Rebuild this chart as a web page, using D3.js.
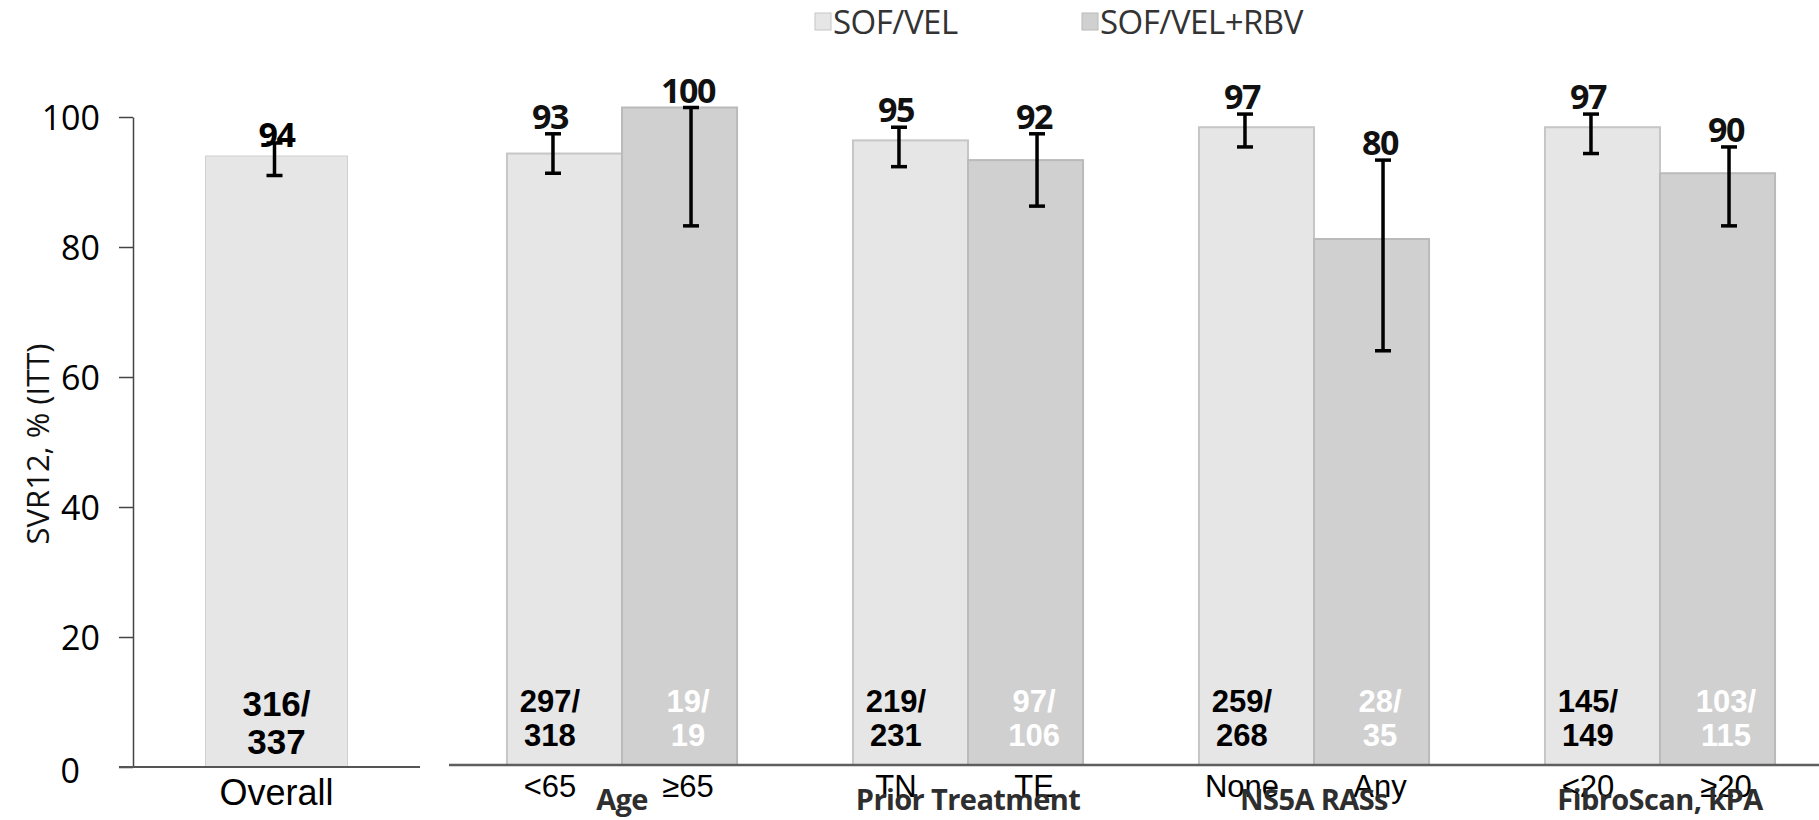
<!DOCTYPE html>
<html>
<head>
<meta charset="utf-8">
<script src="https://cdn.jsdelivr.net/npm/d3@7"></script>
<style>
  body { margin: 0; background: #fff; }
  svg { display: block; }
</style>
</head>
<body>
<div class="chart"></div>
<script>
// --- data ---
const seriesNames = ["SOF/VEL", "SOF/VEL+RBV"];

const overallCategory = ["Overall"];
const overallValues = [94];
const overallLow = [91];
const overallHigh = [96];
const overallCounts = [["316/", "337"]];

const groups = ["Age", "Prior Treatment", "NS5A RASs", "FibroScan, kPA"];
const subgroupLabels = [["<65", "≥65"], ["TN", "TE"], ["None", "Any"], ["<20", "≥20"]];

const sofVelValues = [93, 95, 97, 97];
const sofVelLow = [90, 91, 94, 93];
const sofVelHigh = [96, 97, 99, 99];
const sofVelCounts = [["297/", "318"], ["219/", "231"], ["259/", "268"], ["145/", "149"]];

const rbvValues = [100, 92, 80, 90];
const rbvLow = [82, 85, 63, 82];
const rbvHigh = [100, 96, 92, 94];
const rbvCounts = [["19/", "19"], ["97/", "106"], ["28/", "35"], ["103/", "115"]];

const yTicks = [0, 20, 40, 60, 80, 100];
const yTitle = "SVR12, % (ITT)";

// --- styles ---
const fills = { "SOF/VEL": "#e6e6e6", "SOF/VEL+RBV": "#d0d0d0" };
const strokes = { "SOF/VEL": "#c6c6c6", "SOF/VEL+RBV": "#bababa" };
const countColors = { "SOF/VEL": "#000", "SOF/VEL+RBV": "#fff" };
const arial = "'Liberation Sans', Arial, sans-serif";
const calibri = "'Open Sans', 'DejaVu Sans', sans-serif";

const width = 1819;
const height = 820;

const rows = groups.map((g, i) => ({
  group: g,
  series: [
    { key: seriesNames[0], label: subgroupLabels[i][0], value: sofVelValues[i],
      lo: sofVelLow[i], hi: sofVelHigh[i], count: sofVelCounts[i] },
    { key: seriesNames[1], label: subgroupLabels[i][1], value: rbvValues[i],
      lo: rbvLow[i], hi: rbvHigh[i], count: rbvCounts[i] },
  ],
}));

const svg = d3.select(".chart").append("svg")
  .attr("width", width)
  .attr("height", height);

function errorBar(sel, x, y0, y1) {
  const cap = 8;
  sel.append("line").attr("x1", x).attr("x2", x).attr("y1", y0).attr("y2", y1);
  sel.append("line").attr("x1", x - cap).attr("x2", x + cap).attr("y1", y0).attr("y2", y0);
  sel.append("line").attr("x1", x - cap).attr("x2", x + cap).attr("y1", y1).attr("y2", y1);
}

// ---------- left panel (Overall) ----------
const yL = d3.scaleLinear().domain([0, 100]).range([767, 117]);
const xL = d3.scaleBand().domain(overallCategory).range([133, 420])
  .paddingInner(0.505).paddingOuter(0.2525);

const left = svg.append("g");

left.selectAll("rect.bar")
  .data(overallCategory)
  .join("rect")
  .attr("class", "bar")
  .attr("x", (d) => xL(d))
  .attr("y", (d, i) => yL(overallValues[i]))
  .attr("width", xL.bandwidth())
  .attr("height", (d, i) => yL(0) - yL(overallValues[i]))
  .attr("fill", fills[seriesNames[0]])
  .attr("stroke", "#cfcfcf")
  .attr("stroke-width", 1);

const yAxis = left.append("g")
  .attr("transform", `translate(${xL.range()[0]},0)`)
  .call(d3.axisLeft(yL).tickValues(yTicks).tickSize(14).tickSizeOuter(0).tickPadding(19));
yAxis.select(".domain").attr("stroke", "#444").attr("stroke-width", 1.5);
yAxis.selectAll(".tick line").attr("stroke", "#444").attr("stroke-width", 1.5);
yAxis.selectAll(".tick text")
  .attr("font-family", calibri)
  .attr("font-size", 34)
  .attr("fill", "#000")
  .attr("dy", "0.36em");
yAxis.selectAll(".tick").filter((d) => d === 0).select("text")
  .attr("dx", -20).attr("dy", "0.45em");

left.append("line")
  .attr("x1", xL.range()[0] - 14).attr("x2", xL.range()[1])
  .attr("y1", yL(0)).attr("y2", yL(0))
  .attr("stroke", "#555").attr("stroke-width", 2);

left.append("text")
  .attr("transform", `translate(49,${(yL(0) + yL(100)) / 2 + 2}) rotate(-90)`)
  .attr("text-anchor", "middle")
  .attr("font-family", calibri)
  .attr("font-size", 31)
  .attr("fill", "#111")
  .text(yTitle);

overallCategory.forEach((c, i) => {
  const cx = xL(c) + xL.bandwidth() / 2;
  const eb = left.append("g").attr("stroke", "#000").attr("stroke-width", 3.5);
  errorBar(eb, cx - 2, yL(overallLow[i]), yL(overallHigh[i]));

  left.append("text")
    .attr("x", cx).attr("y", yL(overallHigh[i]) + 4)
    .attr("text-anchor", "middle")
    .attr("font-family", calibri).attr("font-weight", 700)
    .attr("font-size", 34).attr("letter-spacing", -1.5)
    .text(overallValues[i]);

  left.append("text")
    .attr("text-anchor", "middle")
    .attr("font-family", arial).attr("font-weight", 700)
    .attr("font-size", 35)
    .selectAll("tspan")
    .data(overallCounts[i])
    .join("tspan")
    .attr("x", cx)
    .attr("y", (d, j) => 716 + j * 38)
    .text((d) => d);

  left.append("text")
    .attr("x", cx).attr("y", 805)
    .attr("text-anchor", "middle")
    .attr("font-family", arial).attr("font-size", 36)
    .text(c);
});

// ---------- right panel (subgroups) ----------
const yR = d3.scaleLinear().domain([0, 100]).range([765, 107.5]);
const x0 = d3.scaleBand().domain(groups).range([449, 1833])
  .paddingInner(0.335).paddingOuter(0.1675);
const x1 = d3.scaleBand().domain(seriesNames).range([0, x0.bandwidth()]);
const xMark = d3.scalePoint().domain(seriesNames)
  .range([x0.bandwidth() * 0.2, x0.bandwidth() * 0.8]);

const right = svg.append("g");

const groupSel = right.selectAll("g.group")
  .data(rows)
  .join("g")
  .attr("class", "group")
  .attr("transform", (d) => `translate(${x0(d.group)},0)`);

groupSel.selectAll("rect")
  .data((d) => d.series)
  .join("rect")
  .attr("x", (d) => x1(d.key))
  .attr("y", (d) => yR(d.value))
  .attr("width", x1.bandwidth())
  .attr("height", (d) => yR(0) - yR(d.value))
  .attr("fill", (d) => fills[d.key])
  .attr("stroke", (d) => strokes[d.key])
  .attr("stroke-width", 2);

right.append("line")
  .attr("x1", 449).attr("x2", width)
  .attr("y1", yR(0)).attr("y2", yR(0))
  .attr("stroke", "#5e5e5e").attr("stroke-width", 2.5);

groupSel.each(function (row) {
  const g = d3.select(this);
  row.series.forEach((s) => {
    const mx = xMark(s.key);
    const eb = g.append("g").attr("stroke", "#000").attr("stroke-width", 3.5);
    errorBar(eb, mx, yR(s.lo), yR(s.hi));

    g.append("text")
      .attr("x", mx - 3).attr("y", yR(s.hi) - 5)
      .attr("text-anchor", "middle")
      .attr("font-family", calibri).attr("font-weight", 700)
      .attr("font-size", 34).attr("letter-spacing", -1.5)
      .attr("fill", "#111")
      .text(s.value);

    g.append("text")
      .attr("text-anchor", "middle")
      .attr("font-family", arial).attr("font-weight", 700)
      .attr("font-size", 31)
      .attr("fill", countColors[s.key])
      .selectAll("tspan")
      .data(s.count)
      .join("tspan")
      .attr("x", mx - 3)
      .attr("y", (d, j) => 712 + j * 34)
      .text((d) => d);

    g.append("text")
      .attr("x", mx - 3).attr("y", 797)
      .attr("text-anchor", "middle")
      .attr("font-family", arial).attr("font-size", 31)
      .text(s.label);
  });

  g.append("text")
    .attr("x", x0.bandwidth() / 2).attr("y", 810)
    .attr("text-anchor", "middle")
    .attr("font-family", calibri).attr("font-weight", 700)
    .attr("font-size", 29).attr("letter-spacing", -0.6)
    .attr("fill", "#2e2e2e")
    .text(row.group);
});

// ---------- legend ----------
const legendX = [815, 1082];
const legend = svg.append("g")
  .selectAll("g")
  .data(seriesNames)
  .join("g")
  .attr("transform", (d, i) => `translate(${legendX[i]},13)`);

legend.append("rect")
  .attr("width", 16).attr("height", 17)
  .attr("fill", (d) => fills[d])
  .attr("stroke", (d) => strokes[d]);

legend.append("text")
  .attr("x", 18).attr("y", 21)
  .attr("font-family", calibri)
  .attr("font-size", 33)
  .attr("letter-spacing", -0.5)
  .attr("fill", "#333")
  .text((d) => d);
</script>
</body>
</html>
